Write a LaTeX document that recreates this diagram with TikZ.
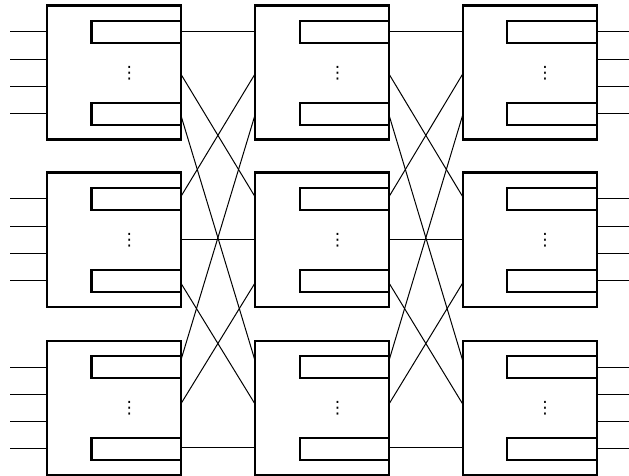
\documentclass[tikz,border=0pt]{standalone}
\usepackage{fontspec}
\newfontfamily\dotfont{DejaVu Sans}
\begin{document}
\begin{tikzpicture}[x=1bp,y=-1bp,
  swbox/.style={draw, line width=2.4bp, minimum width=134bp, minimum height=134bp, inner sep=0pt, outer sep=0pt},
  inrect/.style={draw, line width=2.2bp, minimum width=89.4bp, minimum height=22.3bp, inner sep=0pt, outer sep=0pt, anchor=east},
  wire/.style={line width=1bp},
  dotsnode/.style={inner sep=0pt, outer sep=0pt, anchor=center, font=\dotfont\fontsize{17}{17}\selectfont}]
\useasboundingbox (0,0) rectangle (629,476);
% switch boxes
\foreach \c/\cx in {1/113.8, 2/322, 3/529.7}{
  \foreach \r/\cy in {1/72.7, 2/239.7, 3/407.7}{
    \node[swbox] (b\c\r) at (\cx,\cy) {};
    \node[inrect] (u\c\r) at (\cx+67,\cy-40.5) {};
    \node[inrect] (l\c\r) at (\cx+67,\cy+41.2) {};
    \node[dotsnode] (d\c\r) at (\cx+15.5,\cy+0.3) {⋮};
  }
}
% connection heights
\coordinate (p11) at (0,32);    \coordinate (p12) at (0,74);    \coordinate (p13) at (0,115);
\coordinate (p21) at (0,196.7); \coordinate (p22) at (0,239.5); \coordinate (p23) at (0,283);
\coordinate (p31) at (0,360.5); \coordinate (p32) at (0,404);   \coordinate (p33) at (0,447.3);
% inputs and outputs
\foreach \r/\cy in {1/72.7, 2/239.7, 3/407.7}{
  \foreach \k/\off in {1/-40.7, 2/-13.5, 3/13.8, 4/41}{
    \coordinate (in\r\k) at (10,\cy+\off);
    \coordinate (out\r\k) at (629,\cy+\off);
    \draw[wire] (in\r\k) -- (b1\r.west |- in\r\k);
    \draw[wire] (b3\r.east |- out\r\k) -- (out\r\k);
  }
}
% interstage links
\foreach \i in {1,2,3}{
  \foreach \j in {1,2,3}{
    \draw[wire] (b1\i.east |- p\i\j) -- (b2\j.west |- p\j\i);
    \draw[wire] (b2\i.east |- p\i\j) -- (b3\j.west |- p\j\i);
  }
}
\end{tikzpicture}
\end{document}
